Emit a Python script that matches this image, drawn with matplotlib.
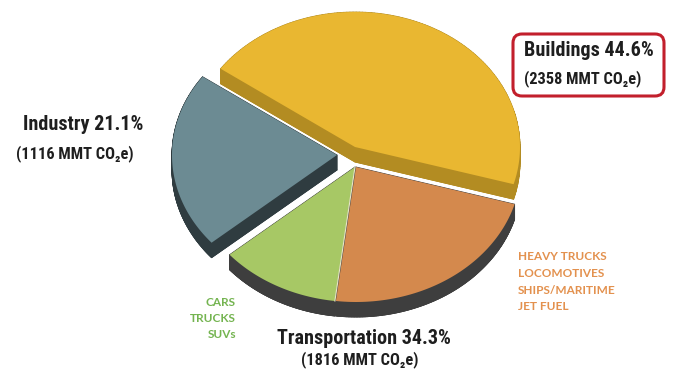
"""
    3D-style exploded pie of CO2 emissions by sector
"""
import numpy as np
import matplotlib.pyplot as plt
from matplotlib.patches import Polygon, FancyBboxPatch
from matplotlib.collections import PolyCollection
from matplotlib import font_manager

# data
sectors = ["Buildings", "Industry", "Transportation"]
shares = [44.6, 21.1, 34.3]           # percent
emissions = [2358, 1116, 1816]        # MMT CO2e
transport_split = [11.8, 22.5]        # percent of total: cars/trucks/SUVs, heavy
light_items = ["CARS", "TRUCKS", "SUVs"]
heavy_items = ["HEAVY TRUCKS", "LOCOMOTIVES", "SHIPS/MARITIME", "JET FUEL"]

slice_values = [shares[0], shares[1]] + transport_split
face_colors = ["#E9B731", "#6C8B93", "#A7C865", "#D4894D"]
wall_colors = ["#B38C22", "#2F3C40", "#3E3E3E", "#3E3E3E"]
offsets = [(0, -20), (-18, -12), (0, 0), (1, 0)]

CX, CY = 355, 167
RX, RY = 165, 135
DEPTH = 15
START = -16

# pick a narrow bold face if one is around
installed = {f.name for f in font_manager.fontManager.ttflist}
narrow = [n for n in ['Liberation Sans Narrow', 'Roboto Condensed',
                      'DejaVu Sans Condensed', 'Open Sans Condensed']
          if n in installed]
LABEL = (narrow[:1] or ['Roboto']) + ['DejaVu Sans']
BIG, MID = (14.5, 11.8) if narrow else (12, 9.5)
SMALL = ['Lato', 'DejaVu Sans']


def slice_pts(a0, a1, dx, dy):
    t = np.radians(np.linspace(a0, a1, 150))
    xs = np.r_[CX + dx, CX + dx + RX * np.cos(t)]
    ys = np.r_[CY + dy, CY + dy - RY * np.sin(t)]
    return np.column_stack([xs, ys])


fig = plt.figure(figsize=(7, 3.78), dpi=100)
ax = fig.add_axes([0, 0, 1, 1])
ax.set_xlim(0, 700)
ax.set_ylim(378, 0)
ax.axis('off')

angles = START + np.r_[0, np.cumsum(slice_values)] * 3.6
for i in range(len(slice_values)):
    pts = slice_pts(angles[i], angles[i + 1], *offsets[i])
    low = pts + [0, DEPTH]
    quads = [np.array([pts[k], pts[(k + 1) % len(pts)],
                       low[(k + 1) % len(pts)], low[k]])
             for k in range(len(pts))]
    quads.append(low)
    ax.add_collection(PolyCollection(quads, facecolors=wall_colors[i],
                                     edgecolors=wall_colors[i], linewidths=0.6,
                                     zorder=2 + 2 * i))
    ax.add_patch(Polygon(pts, closed=True, facecolor=face_colors[i],
                         edgecolor='none', zorder=3 + 2 * i))

# thin light seam between the two transport pieces
a = np.radians(angles[3])
ax.plot([CX, CX + RX * np.cos(a)], [CY, CY - RY * np.sin(a)],
        color='#E8E4C8', lw=0.8, zorder=10)

dark = '#1E1E1E'
# buildings label with red box
ax.add_patch(FancyBboxPatch((513, 34), 151, 62,
                            boxstyle="round,pad=0,rounding_size=9",
                            facecolor='white', edgecolor='#C21F2C', lw=2.2,
                            zorder=11))
ax.text(589, 51, "{} {}%".format(sectors[0], shares[0]), family=LABEL,
        weight='bold', fontsize=BIG, color=dark, ha='center', va='center',
        zorder=12)
ax.text(583, 79, "({} MMT CO₂e)".format(emissions[0]), family=LABEL,
        weight='bold', fontsize=MID, color=dark, ha='center', va='center',
        zorder=12)

ax.text(83, 125, "{} {}%".format(sectors[1], shares[1]), family=LABEL,
        weight='bold', fontsize=BIG, color=dark, ha='center', va='center')
ax.text(75, 154, "({} MMT CO₂e)".format(emissions[1]), family=LABEL,
        weight='bold', fontsize=MID, color=dark, ha='center', va='center')

ax.text(364, 339, "{} {}%".format(sectors[2], shares[2]), family=LABEL,
        weight='bold', fontsize=BIG, color=dark, ha='center', va='center')
ax.text(360, 360, "({} MMT CO₂e)".format(emissions[2]), family=LABEL,
        weight='bold', fontsize=MID, color=dark, ha='center', va='center')

for k, item in enumerate(light_items):
    ax.text(236, 302 + 16.5 * k, item, family=SMALL, weight='bold',
            fontsize=8.5, color='#74B450', ha='right', va='center')
for k, item in enumerate(heavy_items):
    ax.text(518, 257 + 16.5 * k, item, family=SMALL, weight='bold',
            fontsize=8.5, color='#E3914E', ha='left', va='center')

plt.savefig("out.png", dpi=100)
